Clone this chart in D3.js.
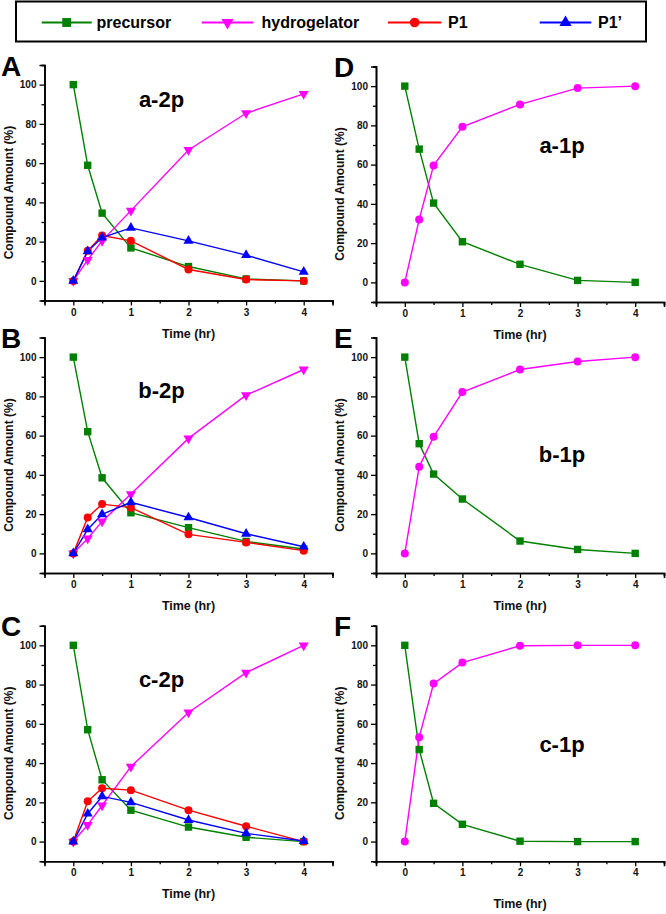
<!DOCTYPE html>
<html><head><meta charset="utf-8">
<script src="https://cdn.jsdelivr.net/npm/d3@7"></script>
<style>
body{margin:0;background:#fff;}
text{font-family:"Liberation Sans",Arial,sans-serif;font-weight:bold;}
</style></head>
<body>
<svg id="chart" width="666" height="914"></svg>
<script>
// ---- data ----
const times = [0, 0.25, 0.5, 1, 2, 3, 4];
const xTicks = [0, 1, 2, 3, 4];
const yTicks = [0, 20, 40, 60, 80, 100];
const seriesNames = ["precursor", "hydrogelator", "P1", "P1\u2019"];
const panelLetters = ["A", "B", "C", "D", "E", "F"];
const panelTitles = ["a-2p", "b-2p", "c-2p", "a-1p", "b-1p", "c-1p"];

const a2p_precursor = [100, 58.9, 34.5, 16.8, 7.3, 1.0, 0];
const a2p_hydrogelator = [0, 10.7, 20.4, 35.8, 66.7, 85.4, 95.3];
const a2p_P1 = [0, 15.3, 23.1, 20.4, 5.8, 0.7, 0];
const a2p_P1p = [0, 15.1, 22.1, 27.0, 20.4, 13.1, 4.6];

const b2p_precursor = [100, 62.0, 38.5, 20.7, 13.1, 6.1, 2.2];
const b2p_hydrogelator = [0, 7.6, 16.3, 30.2, 58.6, 80.6, 93.7];
const b2p_P1 = [0, 18.3, 25.1, 23.3, 9.7, 5.6, 1.4];
const b2p_P1p = [0, 12.2, 19.9, 26.0, 18.3, 10.0, 3.4];

const c2p_precursor = [100, 57.0, 31.5, 16.0, 7.4, 2.2, 0];
const c2p_hydrogelator = [0, 8.5, 18.4, 38.2, 65.8, 86.1, 100];
const c2p_P1 = [0, 20.5, 27.2, 26.2, 16.0, 7.8, 0];
const c2p_P1p = [0, 14.2, 23.0, 20.0, 11.0, 4.2, 0.3];

const a1p_precursor = [100, 67.9, 40.4, 20.7, 9.2, 1.0, 0];
const a1p_hydrogelator = [0, 32.1, 59.6, 79.3, 90.7, 99.0, 100];

const b1p_precursor = [100, 55.9, 40.4, 27.7, 6.3, 2.0, 0];
const b1p_hydrogelator = [0, 44.1, 59.4, 82.2, 93.7, 97.8, 100];

const c1p_precursor = [100, 46.9, 19.5, 8.8, 0.2, 0, 0];
const c1p_hydrogelator = [0, 53.2, 80.5, 91.2, 99.8, 100, 100];

// ---- styles ----
const colors = {precursor: "#008000", hydrogelator: "#ff00ff", P1: "#ff0000", P1p: "#0000ff"};

const panels = [
  {letter: panelLetters[0], title: panelTitles[0], col: 0, row: 0, series: [
    {key: "precursor", v: a2p_precursor, m: "square"},
    {key: "hydrogelator", v: a2p_hydrogelator, m: "tdown"},
    {key: "P1", v: a2p_P1, m: "circle"},
    {key: "P1p", v: a2p_P1p, m: "tup"}], titlePos: [161.5, 106.5]},
  {letter: panelLetters[1], title: panelTitles[1], col: 0, row: 1, series: [
    {key: "precursor", v: b2p_precursor, m: "square"},
    {key: "hydrogelator", v: b2p_hydrogelator, m: "tdown"},
    {key: "P1", v: b2p_P1, m: "circle"},
    {key: "P1p", v: b2p_P1p, m: "tup"}], titlePos: [161.5, 397.5]},
  {letter: panelLetters[2], title: panelTitles[2], col: 0, row: 2, series: [
    {key: "precursor", v: c2p_precursor, m: "square"},
    {key: "hydrogelator", v: c2p_hydrogelator, m: "tdown"},
    {key: "P1", v: c2p_P1, m: "circle"},
    {key: "P1p", v: c2p_P1p, m: "tup"}], titlePos: [161.5, 686.5]},
  {letter: panelLetters[3], title: panelTitles[3], col: 1, row: 0, series: [
    {key: "precursor", v: a1p_precursor, m: "square"},
    {key: "hydrogelator", v: a1p_hydrogelator, m: "circle"}], titlePos: [562, 153]},
  {letter: panelLetters[4], title: panelTitles[4], col: 1, row: 1, series: [
    {key: "precursor", v: b1p_precursor, m: "square"},
    {key: "hydrogelator", v: b1p_hydrogelator, m: "circle"}], titlePos: [562, 461.5]},
  {letter: panelLetters[5], title: panelTitles[5], col: 1, row: 2, series: [
    {key: "precursor", v: c1p_precursor, m: "square"},
    {key: "hydrogelator", v: c1p_hydrogelator, m: "circle"}], titlePos: [562, 751.5]}
];

const svg = d3.select("#chart");
const colX = [44.5, 376];
const plotW = 288;
const rowY = [[65, 66.5], [337.5, 337.5], [625.7, 625.7]];
const plotH = 235.5;
const xlabelOffset = [[33, 33], [33, 33], [33, 43]];

function marker(g, type, x, y, color, s) {
  s = s || 1;
  if (type === "square") {
    g.append("rect").attr("x", x - 3.7*s).attr("y", y - 3.7*s).attr("width", 7.4*s).attr("height", 7.4*s).attr("fill", color);
  } else if (type === "circle") {
    g.append("circle").attr("cx", x).attr("cy", y).attr("r", 4*s).attr("fill", color);
  } else if (type === "tup") {
    g.append("path").attr("d", d3.symbol(d3.symbolTriangle, 44*s*s)()).attr("transform", `translate(${x},${y})`).attr("fill", color);
  } else if (type === "tdown") {
    g.append("path").attr("d", d3.symbol(d3.symbolTriangle, 44*s*s)()).attr("transform", `translate(${x},${y}) rotate(180)`).attr("fill", color);
  }
}

panels.forEach(p => {
  const left = colX[p.col];
  const top = rowY[p.row][p.col];
  const x = d3.scaleLinear().domain([-0.5, 4.5]).range([left, left + plotW]);
  const y = d3.scaleLinear().domain([-10, 110]).range([top + plotH, top]);
  const g = svg.append("g");

  // axes
  const xa = g.append("g").attr("transform", `translate(0,${top + plotH})`)
    .call(d3.axisBottom(x).tickValues(xTicks).tickSize(5).tickPadding(3).tickFormat(d3.format("d")));
  const xm = g.append("g").attr("transform", `translate(0,${top + plotH})`)
    .call(d3.axisBottom(x).tickValues([-0.5, 0.5, 1.5, 2.5, 3.5, 4.5]).tickSize(3).tickFormat(""));
  const ya = g.append("g").attr("transform", `translate(${left},0)`)
    .call(d3.axisLeft(y).tickValues(yTicks).tickSize(5).tickPadding(3).tickFormat(d3.format("d")));
  const ym = g.append("g").attr("transform", `translate(${left},0)`)
    .call(d3.axisLeft(y).tickValues([-10, 10, 30, 50, 70, 90, 110]).tickSize(3).tickFormat(""));
  [xa, xm, ya, ym].forEach(a => {
    a.selectAll(".domain").attr("stroke", "#000").attr("stroke-width", 1.6);
    a.selectAll(".tick line").attr("stroke", "#000").attr("stroke-width", 1.3);
    a.selectAll(".tick text").attr("font-size", 10).attr("font-weight", "bold")
      .attr("font-family", "Liberation Sans, Arial, sans-serif").attr("fill", "#111");
  });

  // axis titles
  g.append("text").attr("x", left + plotW / 2).attr("y", top + plotH + xlabelOffset[p.row][p.col] + 4)
    .attr("text-anchor", "middle").attr("font-size", 12.5).attr("fill", "#111").text("Time (hr)");
  g.append("text").attr("transform", `translate(${left - 32},${y(45)}) rotate(-90)`)
    .attr("text-anchor", "middle").attr("font-size", 12).attr("fill", "#111").text("Compound Amount (%)");

  // panel letter and title
  g.append("text").attr("x", p.col === 0 ? 1 : 334).attr("y", top + 10.5).attr("font-size", 28).attr("fill", "#000").text(p.letter);
  g.append("text").attr("x", p.titlePos[0]).attr("y", p.titlePos[1]).attr("text-anchor", "middle")
    .attr("font-size", 22).attr("fill", "#000").text(p.title);

  // series
  const line = d3.line().x((d, i) => x(times[i])).y(d => y(d));
  p.series.forEach(s => {
    g.append("path").datum(s.v).attr("d", line).attr("fill", "none")
      .attr("stroke", colors[s.key]).attr("stroke-width", 1.4);
  });
  p.series.forEach(s => {
    s.v.forEach((d, i) => marker(g, s.m, x(times[i]), y(d), colors[s.key]));
  });
});

// legend
const lg = svg.append("g");
lg.append("rect").attr("x", 16).attr("y", 1.5).attr("width", 630).attr("height", 40)
  .attr("fill", "#fff").attr("stroke", "#000").attr("stroke-width", 2);
const legendItems = [
  {name: seriesNames[0], key: "precursor", m: "square", x0: 41.7, x1: 91.7, tx: 96.5},
  {name: seriesNames[1], key: "hydrogelator", m: "tdown", x0: 201.7, x1: 253.3, tx: 261.5},
  {name: seriesNames[2], key: "P1", m: "circle", x0: 388, x1: 441.3, tx: 448},
  {name: seriesNames[3], key: "P1p", m: "tup", x0: 539.7, x1: 591.3, tx: 598}
];
legendItems.forEach(it => {
  lg.append("line").attr("x1", it.x0).attr("x2", it.x1).attr("y1", 22.5).attr("y2", 22.5)
    .attr("stroke", colors[it.key]).attr("stroke-width", 2);
  marker(lg, it.m, (it.x0 + it.x1) / 2, 22.5, colors[it.key], 1.2);
  lg.append("text").attr("x", it.tx).attr("y", 28).attr("font-size", 16).attr("fill", "#000").text(it.name);
});
</script>
</body></html>
